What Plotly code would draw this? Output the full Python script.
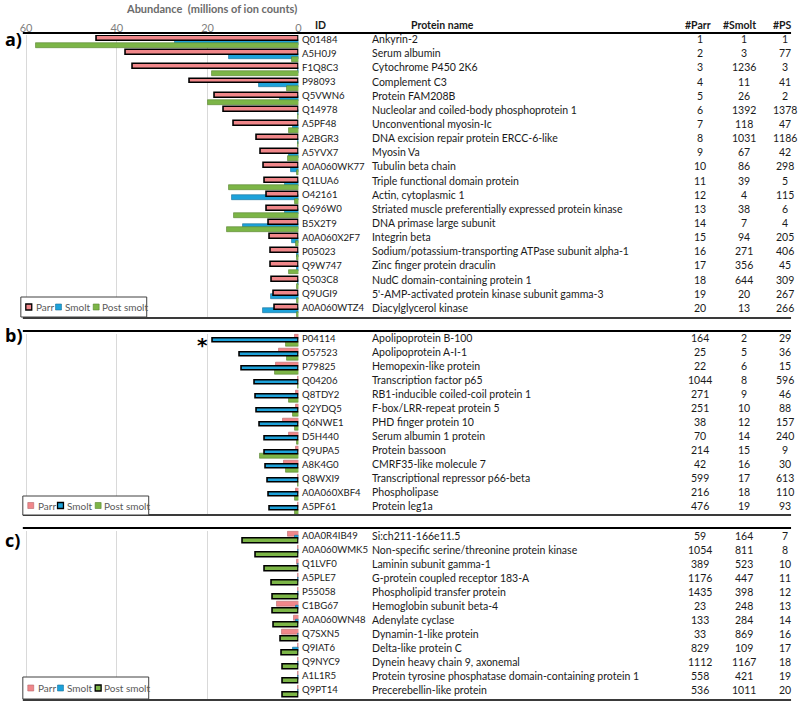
import plotly.graph_objects as go

# ---------------- data ----------------
series = ["Parr", "Smolt", "Post smolt"]
x_ticks = [0, 20, 40, 60]

ids_a = ["Q01484", "A5H0J9", "F1Q8C3", "P98093", "Q5VWN6", "Q14978", "A5PF48", "A2BGR3", "A5YVX7",
         "A0A060WK77", "Q1LUA6", "O42161", "Q696W0", "B5X2T9", "A0A060X2F7", "P05023", "Q9W747",
         "Q503C8", "Q9UGI9", "A0A060WTZ4"]
names_a = ["Ankyrin-2", "Serum albumin", "Cytochrome P450 2K6", "Complement C3", "Protein FAM208B",
           "Nucleolar and coiled-body phosphoprotein 1", "Unconventional myosin-Ic",
           "DNA excision repair protein ERCC-6-like", "Myosin Va", "Tubulin beta chain",
           "Triple functional domain protein", "Actin, cytoplasmic 1",
           "Striated muscle preferentially expressed protein kinase", "DNA primase large subunit",
           "Integrin beta", "Sodium/potassium-transporting ATPase subunit alpha-1",
           "Zinc finger protein draculin", "NudC domain-containing protein 1",
           "5'-AMP-activated protein kinase subunit gamma-3", "Diacylglycerol kinase"]
rank_parr_a = [1, 2, 3, 4, 5, 6, 7, 8, 9, 10, 11, 12, 13, 14, 15, 16, 17, 18, 19, 20]
rank_smolt_a = [1, 3, 1236, 11, 26, 1392, 118, 1031, 67, 86, 39, 4, 38, 7, 94, 271, 356, 644, 20, 13]
rank_ps_a = [1, 77, 3, 41, 2, 1378, 47, 1186, 42, 298, 5, 115, 6, 4, 205, 406, 45, 309, 267, 266]
parr_a = [44.5, 38.0, 36.4, 23.9, 18.3, 16.5, 14.2, 9.2, 8.2, 7.7, 7.4, 6.9, 6.9, 6.6, 6.3, 6.1, 6.1, 5.9, 5.5, 5.2]
smolt_a = [27.3, 15.4, 0.05, 8.8, 4.1, 0.05, 1.3, 0.05, 2.2, 1.6, 3.0, 14.6, 3.0, 12.3, 1.4, 0.45, 0.3, 0.12, 6.1, 7.9]
ps_a = [57.8, 1.4, 19.1, 2.5, 20.0, 0.03, 2.0, 0.04, 2.4, 0.35, 15.4, 0.8, 14.3, 15.7, 0.5, 0.25, 2.2, 0.3, 0.4, 0.4]

ids_b = ["P04114", "O57523", "P79825", "Q04206", "Q8TDY2", "Q2YDQ5", "Q6NWE1", "D5H440", "Q9UPA5",
         "A8K4G0", "Q8WXI9", "A0A060XBF4", "A5PF61"]
names_b = ["Apolipoprotein B-100", "Apolipoprotein A-I-1", "Hemopexin-like protein",
           "Transcription factor p65", "RB1-inducible coiled-coil protein 1", "F-box/LRR-repeat protein 5",
           "PHD finger protein 10", "Serum albumin 1 protein", "Protein bassoon", "CMRF35-like molecule 7",
           "Transcriptional repressor p66-beta", "Phospholipase", "Protein leg1a"]
rank_parr_b = [164, 25, 22, 1044, 271, 251, 38, 70, 214, 42, 599, 216, 476]
rank_smolt_b = [2, 5, 6, 8, 9, 10, 12, 14, 15, 16, 17, 18, 19]
rank_ps_b = [29, 36, 15, 596, 46, 88, 157, 240, 9, 30, 613, 110, 93]
parr_b = [0.8, 4.4, 5.0, 0.05, 0.5, 0.5, 3.4, 2.0, 0.6, 3.1, 0.15, 0.6, 0.2]
smolt_b = [18.9, 13.0, 12.5, 9.5, 9.4, 9.2, 8.4, 7.5, 7.4, 7.2, 6.8, 6.6, 6.3]
ps_b = [2.8, 2.6, 5.2, 0.15, 2.1, 1.2, 0.7, 0.4, 8.4, 2.7, 0.15, 0.8, 0.85]

ids_c = ["A0A0R4IB49", "A0A060WMK5", "Q1LVF0", "A5PLE7", "P55058", "C1BG67", "A0A060WN48", "Q7SXN5",
         "Q9IAT6", "Q9NYC9", "A1L1R5", "Q9PT14"]
names_c = ["Si:ch211-166e11.5", "Non-specific serine/threonine protein kinase", "Laminin subunit gamma-1",
           "G-protein coupled receptor 183-A", "Phospholipid transfer protein", "Hemoglobin subunit beta-4",
           "Adenylate cyclase", "Dynamin-1-like protein", "Delta-like protein C",
           "Dynein heavy chain 9, axonemal", "Protein tyrosine phosphatase domain-containing protein 1",
           "Precerebellin-like protein"]
rank_parr_c = [59, 1054, 389, 1176, 1435, 23, 133, 33, 829, 1112, 558, 536]
rank_smolt_c = [164, 811, 523, 447, 398, 248, 284, 869, 109, 1167, 421, 1011]
rank_ps_c = [7, 8, 10, 11, 12, 13, 14, 16, 17, 18, 19, 20]
parr_c = [2.3, 0.05, 0.25, 0.04, 0.03, 4.8, 1.0, 3.6, 0.08, 0.05, 0.15, 0.15]
smolt_c = [0.8, 0.1, 0.15, 0.2, 0.2, 0.5, 0.5, 0.1, 1.3, 0.05, 0.2, 0.06]
ps_c = [12.3, 9.4, 7.4, 5.9, 5.7, 5.7, 5.5, 3.8, 3.7, 3.5, 3.5, 3.5]

# ---------------- styling / layout helpers ----------------
W, H = 800, 702
def px(x): return x / W
def py(y): return 1 - y / H

FONT = "Lato, 'Liberation Sans', sans-serif"
COL = {"Parr": "#F0878A", "Smolt": "#1DA2DA", "Post smolt": "#7CB547"}
EDGE = {"Parr": "#B5676A", "Smolt": "#1A7099", "Post smolt": "#58832F"}
OFFSET = {"Parr": -0.425, "Smolt": -0.175, "Post smolt": 0.075}
BARW = 0.35
X_LEFT, X_RIGHT = 20, 298
XMAX = 60.7
LINE_R = 795

panels = [
    dict(ids=ids_a, names=names_a, vals=[parr_a, smolt_a, ps_a], ranks=[rank_parr_a, rank_smolt_a, rank_ps_a],
         hl="Parr", top=35, bottom=318, ltop=33, lbot=318, label="a)", label_y=39,
         box=(18, 297, 145, 317), tshift=3),
    dict(ids=ids_b, names=names_b, vals=[parr_b, smolt_b, ps_b], ranks=[rank_parr_b, rank_smolt_b, rank_ps_b],
         hl="Smolt", top=333.5, bottom=515.5, ltop=331, lbot=515, label="b)", label_y=335,
         box=(20, 496, 147, 515), tshift=2),
    dict(ids=ids_c, names=names_c, vals=[parr_c, smolt_c, ps_c], ranks=[rank_parr_c, rank_smolt_c, rank_ps_c],
         hl="Post smolt", top=530.5, bottom=698.5, ltop=528, lbot=700, label="c)", label_y=540,
         box=(20, 677, 147, 699), tshift=2),
]

fig = go.Figure()
annotations = []
shapes = []
layout_axes = {}

COLX = {"id": 300, "name": 370, "parr": 703, "smolt": 748, "ps": 789}

for k, p in enumerate(panels, start=1):
    xa = "x" if k == 1 else f"x{k}"
    ya = "y" if k == 1 else f"y{k}"
    n = len(p["ids"])
    order = [s for s in series if s != p["hl"]] + [p["hl"]]
    for s in order:
        vals = p["vals"][series.index(s)]
        hl = s == p["hl"]
        fig.add_trace(go.Bar(
            x=vals, y=p["ids"], orientation="h", name=s, showlegend=False,
            offset=OFFSET[s], width=BARW,
            marker=dict(color=COL[s], line=dict(color="#000000" if hl else EDGE[s], width=1.6 if hl else 0.6)),
            xaxis=xa, yaxis=ya,
        ))
    xkey = "xaxis" if k == 1 else f"xaxis{k}"
    ykey = "yaxis" if k == 1 else f"yaxis{k}"
    layout_axes[xkey] = dict(
        domain=[px(X_LEFT), px(X_RIGHT)], anchor=ya, range=[XMAX, 0],
        tickvals=x_ticks, showgrid=True, gridcolor="#D9D9D9", gridwidth=1, zeroline=False,
        showticklabels=(k == 1), side="top", ticks="", showline=False,
        tickfont=dict(family=FONT, size=11, color="#7F7F7F"),
    )
    if k != 1:
        layout_axes[xkey]["matches"] = "x"
    layout_axes[ykey] = dict(
        domain=[py(p["bottom"]), py(p["top"])], anchor=xa, type="category",
        categoryorder="array", categoryarray=p["ids"], range=[n - 0.5, -0.5],
        showticklabels=False, showgrid=False, zeroline=False, showline=False, ticks="",
    )
    # table rows
    for i in range(n):
        row = [("id", p["ids"][i], "left", 9.6), ("name", p["names"][i], "left", 10.5),
               ("parr", str(p["ranks"][0][i]), "center", 10.5), ("smolt", str(p["ranks"][1][i]), "center", 10.5),
               ("ps", str(p["ranks"][2][i]), "center", 10.5)]
        for col, txt, anc, fs in row:
            annotations.append(dict(
                x=px(COLX[col]), xref="paper", y=i, yref=ya, text=txt, showarrow=False,
                xanchor=anc, yanchor="middle", yshift=p["tshift"],
                font=dict(family=FONT, size=fs, color="#1a1a1a"),
            ))
    # panel lines
    shapes.append(dict(type="line", xref="paper", yref="paper", x0=px(20), x1=px(LINE_R),
                       y0=py(p["ltop"]), y1=py(p["ltop"]), line=dict(color="#000000", width=2)))
    shapes.append(dict(type="line", xref="paper", yref="paper", x0=px(20), x1=px(LINE_R),
                       y0=py(p["lbot"]), y1=py(p["lbot"]), line=dict(color="#3a3a3a", width=2)))
    # panel label
    annotations.append(dict(x=px(0), y=py(p["label_y"]), xref="paper", yref="paper", text="<b>%s</b>" % p["label"],
                            showarrow=False, xanchor="left", yanchor="middle",
                            font=dict(family="'Open Sans', sans-serif", size=18, color="#000")))
    # legend box
    bx0, by0, bx1, by1 = p["box"]
    shapes.append(dict(type="rect", xref="paper", yref="paper", x0=px(bx0), x1=px(bx1), y0=py(by1), y1=py(by0),
                       fillcolor="white", line=dict(color="#404040", width=1)))
    cy = (by0 + by1) / 2
    for s, sw, tx in zip(series, [5, 35, 73], [13, 43, 80]):
        hl = s == p["hl"]
        shapes.append(dict(type="rect", xref="paper", yref="paper",
                           x0=px(bx0 + sw), x1=px(bx0 + sw + 6), y0=py(cy + 3), y1=py(cy - 3),
                           fillcolor=COL[s], line=dict(color="#000" if hl else EDGE[s], width=1.3 if hl else 0.6)))
        annotations.append(dict(x=px(bx0 + tx), y=py(cy), xref="paper", yref="paper", text=s,
                                showarrow=False, xanchor="left", yanchor="middle",
                                font=dict(family=FONT, size=10, color="#595959")))

# header
annotations.append(dict(x=px(210), y=py(9), xref="paper", yref="paper",
                        text="<b>Abundance  (millions of ion counts)</b>", showarrow=False,
                        xanchor="center", yanchor="middle", font=dict(family=FONT, size=11, color="#6b6b6b")))
for txt, xx in [("ID", 320), ("Protein name", 443), ("#Parr", 701), ("#Smolt", 743), ("#PS", 786)]:
    annotations.append(dict(x=px(xx), y=py(25), xref="paper", yref="paper", text="<b>%s</b>" % txt,
                            showarrow=False, xanchor="center", yanchor="middle",
                            font=dict(family=FONT, size=10.5, color="#1a1a1a")))

# asterisk on Apolipoprotein B-100 smolt bar
annotations.append(dict(x=smolt_b[0], y=0, xref="x2", yref="y2", text="<b>*</b>", showarrow=False,
                        xanchor="right", yanchor="middle", xshift=-3, yshift=-5,
                        font=dict(family="'DejaVu Sans', sans-serif", size=20, color="#000")))

fig.update_layout(
    width=W, height=H, margin=dict(l=0, r=0, t=0, b=0),
    paper_bgcolor="white", plot_bgcolor="white", barmode="overlay", bargap=0,
    showlegend=False, annotations=annotations, shapes=shapes, **layout_axes,
)

fig.write_html("out.html", config={"displayModeBar": False},
               post_script="document.body.style.margin='0';document.body.style.overflow='hidden';")
